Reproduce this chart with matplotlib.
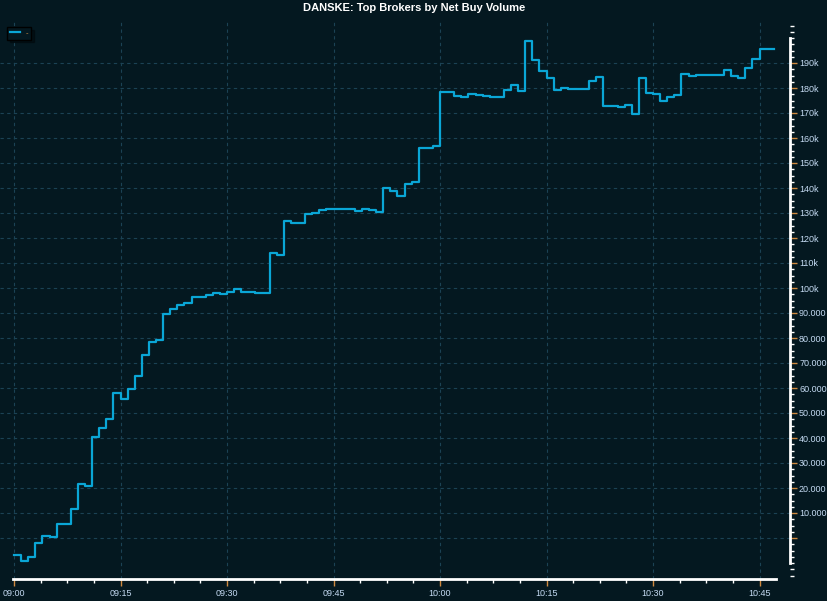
import numpy as np
import matplotlib
matplotlib.use('Agg')
import matplotlib.pyplot as plt
from matplotlib.ticker import MultipleLocator, FuncFormatter, FixedLocator

plt.rcParams['font.family'] = ['Liberation Sans', 'DejaVu Sans']

# net buy volume, one value per minute starting 09:00
net_buy = [-6800, -9200, -7600, -2000, 800, 400, 5600, 5600, 11600, 21600,
           20800, 40400, 44000, 47600, 58000, 55600, 59600, 64900, 73200, 78400,
           79200, 89600, 91600, 93200, 94000, 96400, 96400, 97200, 98000, 97600,
           98400, 99600, 98400, 98400, 98000, 98000, 114000, 113200, 126800, 126000,
           126000, 129600, 130000, 131200, 131600, 131600, 131600, 131600, 130800, 131600,
           131200, 130400, 140000, 138800, 136800, 141600, 142400, 156000, 156000, 156800,
           178500, 178500, 176900, 176500, 177700, 177300, 176900, 176500, 176500, 179200,
           181300, 178900, 198800, 191300, 186900, 184100, 179300, 180000, 179700, 179700,
           179700, 182900, 184400, 172900, 172900, 172500, 173300, 169700, 184100, 178100,
           177700, 174900, 176500, 177300, 185700, 184900, 185300, 185300, 185300, 185300,
           187300, 184900, 184100, 188100, 191700, 195700, 195700]
series_label = '-'
title = 'DANSKE: Top Brokers by Net Buy Volume'

bg = '#041820'
line_col = '#0aa6d6'
grid_col = '#1b4254'
tick_txt = '#c4daf2'
orange = '#d08a40'

W, H = 827, 601
fig = plt.figure(figsize=(W / 100, H / 100), dpi=100, facecolor=bg)
ax = fig.add_axes([0, (H - 579) / H, 790 / W, 557 / H], facecolor=bg)

x = np.arange(len(net_buy) + 1)
y = net_buy + [net_buy[-1]]
ax.step(x, y, where='post', color=line_col, lw=1.6, label=series_label)

px_min = 15 / 106.5
ax.set_xlim((0 - 14) * px_min, (790 - 14) * px_min)
ax.set_ylim(-16400, 206400)

for s in ['left', 'top']:
    ax.spines[s].set_visible(False)
ax.spines['right'].set_color('white')
ax.spines['right'].set_linewidth(2)
ax.spines['right'].set_bounds(-10000, 200000)
ax.spines['bottom'].set_color('white')
ax.spines['bottom'].set_linewidth(2)
ax.spines['bottom'].set_bounds((13 - 14) * px_min, (776 - 14) * px_min)

ax.xaxis.set_major_locator(FixedLocator(np.arange(0, 106, 15)))
ax.xaxis.set_minor_locator(FixedLocator(np.arange(0, 107.5, 3.75)))
ax.xaxis.set_major_formatter(FuncFormatter(
    lambda v, p: '%02d:%02d' % (9 + int(v) // 60, int(v) % 60)))

ax.yaxis.tick_right()
ax.yaxis.set_major_locator(FixedLocator(np.arange(0, 190001, 10000)))
ax.yaxis.set_minor_locator(MultipleLocator(2500))


def yfmt(v, p):
    if v <= 0:
        return ''
    if v < 100000:
        return '{:,.0f}'.format(v).replace(',', '.')
    return '%dk' % round(v / 1000)


ax.yaxis.set_major_formatter(FuncFormatter(yfmt))

ax.tick_params(axis='both', which='major', colors=orange, labelcolor=tick_txt,
               labelsize=6.5, length=5, width=1, direction='out')
ax.tick_params(axis='both', which='minor', colors='white', length=3, width=1,
               direction='out')
ax.tick_params(axis='y', which='major', pad=1.5)
ax.tick_params(axis='x', which='major', pad=2)

ax.grid(True, which='major', color=grid_col, ls=(0, (3, 3)), lw=0.8)

fig.text(414 / W, 1 - 8 / H, title, color='white', fontsize=8,
         fontweight='bold', ha='center', va='center')

leg = fig.legend(loc='upper left', bbox_to_anchor=(7 / W, 1 - 27 / H),
                 fontsize=5.5, handlelength=1.4, handletextpad=0.7,
                 borderpad=0.35, borderaxespad=0, fancybox=False, shadow=True,
                 facecolor=bg, edgecolor='black', framealpha=1)
for t in leg.get_texts():
    t.set_color(orange)

fig.savefig('out.png', dpi=100, facecolor=bg)
